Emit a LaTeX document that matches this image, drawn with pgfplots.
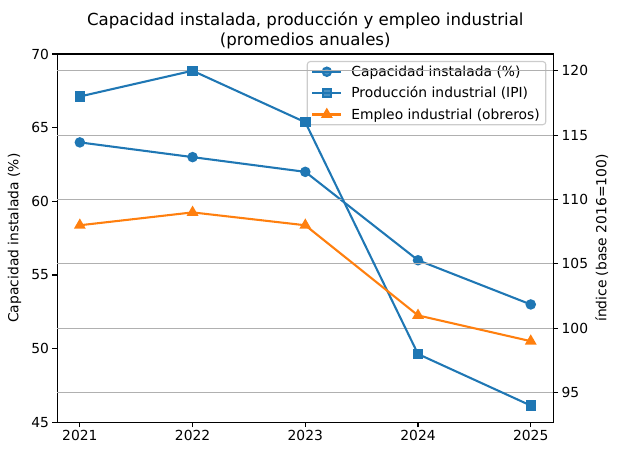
\documentclass[border=0pt]{standalone}
\usepackage{fontspec}
\setmainfont{DejaVu Sans}
\usepackage{pgfplots}
\pgfplotsset{compat=1.18}
\definecolor{tabblue}{RGB}{31,119,180}
\definecolor{taborange}{RGB}{255,127,14}
\definecolor{gridgray}{RGB}{176,176,176}
\definecolor{leggray}{RGB}{204,204,204}
\newcommand{\tickfont}{\fontsize{13.9}{16.7}\selectfont}
\newcommand{\titlefont}{\fontsize{16.67}{20}\selectfont}
\pgfplotsset{
  common/.style={
    at={(0,0)}, anchor=south west,
    scale only axis, width=496bp, height=368.3bp,
    xmin=2020.8, xmax=2025.2,
    /pgf/number format/assume math mode=true,
    tick label style={font=\tickfont},
    tick align=outside,
    major tick length=4.86bp,
    every tick/.style={black, line width=1.11bp},
    axis line style={line width=1.11bp, -},
    x tick label style={/pgf/number format/1000 sep={}},
  },
}
\begin{document}
\begin{tikzpicture}
\begin{axis}[common, name=ax1,
  ymin=45, ymax=70, ytick={45,50,...,70},
  xtick={2021,2022,2023,2024,2025},
  xtick pos=left, ytick pos=left,
  ylabel={Capacidad instalada (\%)},
  every axis y label/.style={at={(axis description cs:-0.0863,0.5)}, rotate=90, anchor=center, font=\tickfont},
  legend cell align=left,
  legend style={at={(axis description cs:0.986,0.981)}, anchor=north east,
    draw=leggray, line width=1.11bp, rounded corners=3bp, fill=white, fill opacity=0.8, text opacity=1,
    font=\tickfont, inner xsep=4bp, inner ysep=2.2bp, row sep=5.1bp,
    /tikz/every odd column/.append style={column sep=7bp}},
  legend image code/.code={\draw[mark repeat=2,mark phase=2] plot coordinates {(0bp,0bp)(14.5bp,0bp)(29bp,0bp)};},
]
\addplot[tabblue, line width=2.08bp, mark=*, mark size=4.17bp, mark options={solid}] coordinates {
(2021,64) (2022,63) (2023,62) (2024,56) (2025,53)};
\addlegendentry{Capacidad instalada (\%)}
\addlegendimage{tabblue, line width=2.08bp, mark=square*, mark size=4.17bp}
\addlegendentry{Producción industrial (IPI)}
\addlegendimage{taborange, line width=2.08bp, mark=triangle*, mark size=4.8bp}
\addlegendentry{Empleo industrial (obreros)}
\end{axis}
\begin{axis}[common,
  ymin=92.7, ymax=121.3, ytick={95,100,...,120},
  axis x line=none, axis y line*=right,
  ymajorgrids, grid style={gridgray, line width=1.11bp},
  ylabel={índice (base 2016=100)},
  every axis y label/.style={at={(axis description cs:1.0976,0.5)}, rotate=90, anchor=center, font=\tickfont},
]
\addplot[tabblue, line width=2.08bp, mark=square*, mark size=4.17bp] coordinates {
(2021,118) (2022,120) (2023,116) (2024,98) (2025,94)};
\addplot[taborange, line width=2.08bp, mark=triangle*, mark size=4.8bp] coordinates {
(2021,108) (2022,109) (2023,108) (2024,101) (2025,99)};
\end{axis}
\node[anchor=base, font=\titlefont] at ([yshift=8.3bp]ax1.north) {(promedios anuales)};
\node[anchor=base, font=\titlefont] at ([yshift=28.3bp]ax1.north) {Capacidad instalada, producción y empleo industrial};
\pgfresetboundingbox
\path[use as bounding box] (-57.3bp,-33.7bp) rectangle (561.7bp,422.3bp);
\end{tikzpicture}
\end{document}
